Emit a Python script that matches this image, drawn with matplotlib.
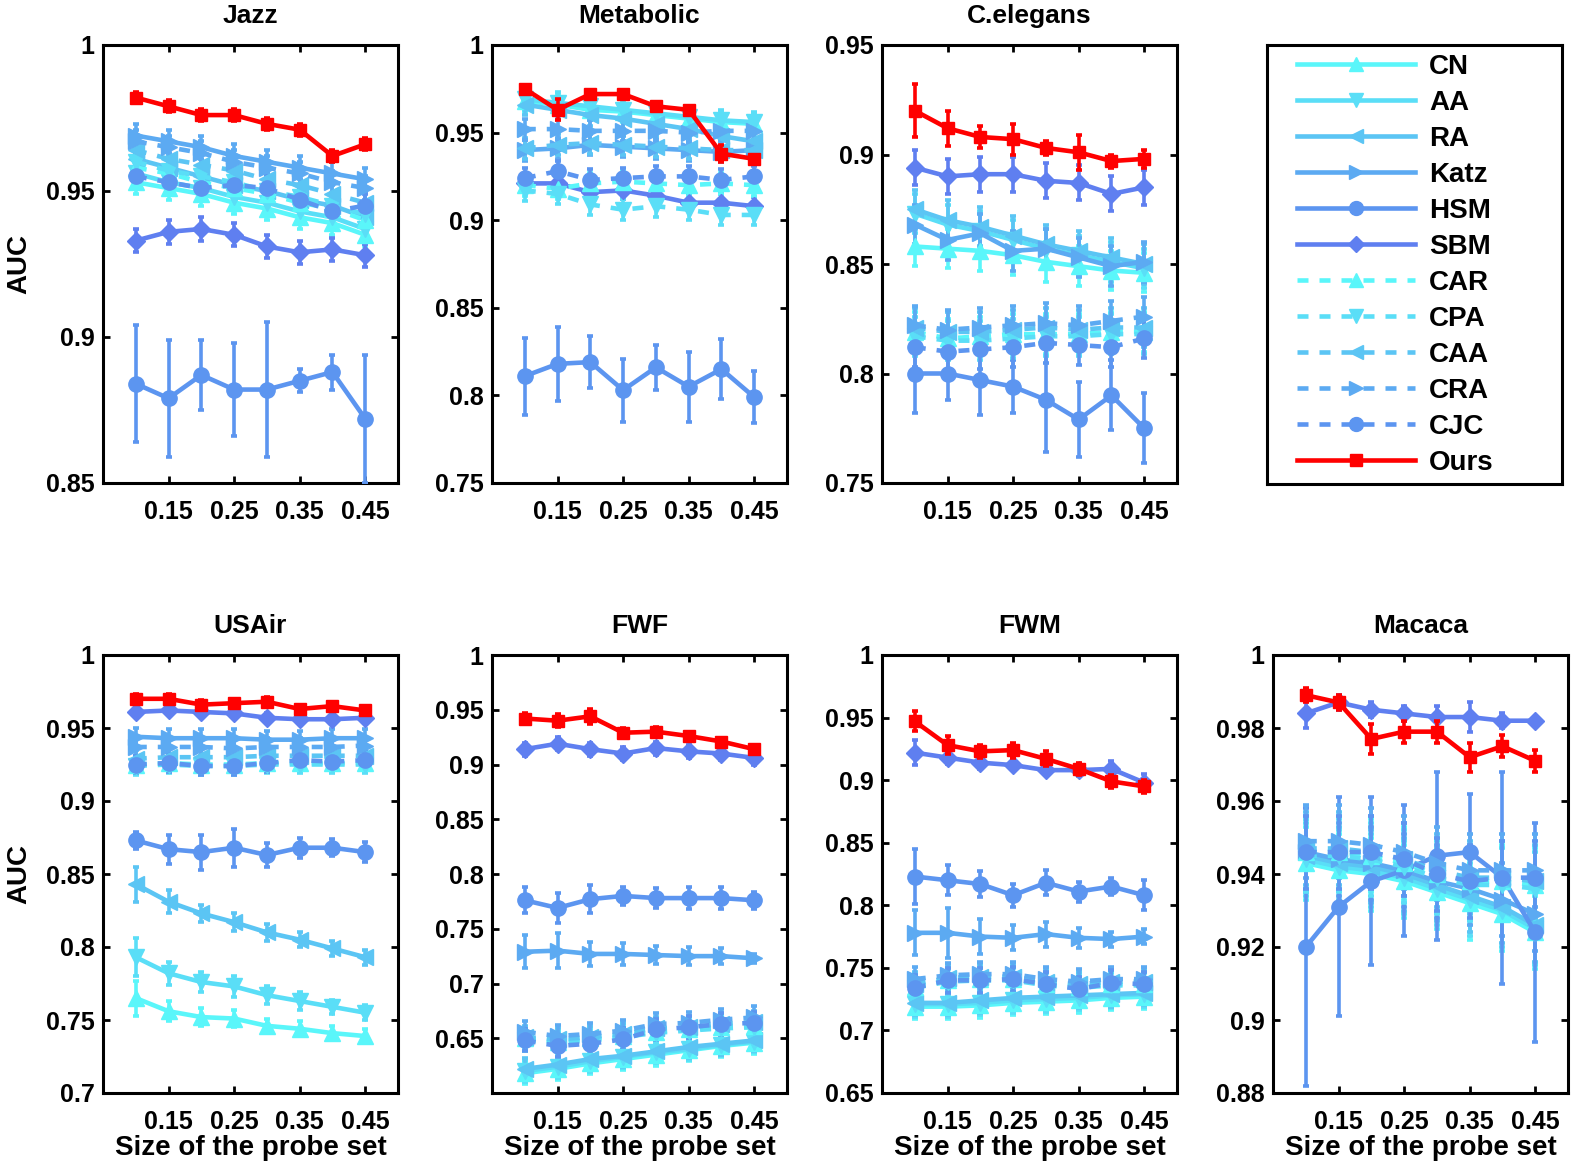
"""
AUC vs size of the probe set for seven networks, with a shared legend panel.
"""

import matplotlib

matplotlib.use("Agg")
import matplotlib.pyplot as plt
import numpy as np
from matplotlib.lines import Line2D
from matplotlib.ticker import FormatStrFormatter

plt.rcParams["font.family"] = ["Liberation Sans", "DejaVu Sans"]
plt.rcParams["font.weight"] = "bold"

# probe set sizes
probe = [0.10, 0.15, 0.20, 0.25, 0.30, 0.35, 0.40, 0.45]

methods = ["CN", "AA", "RA", "Katz", "HSM", "SBM",
           "CAR", "CPA", "CAA", "CRA", "CJC", "Ours"]

# ---------------- Jazz ----------------
jazz_auc = {
    "CN":   [0.953, 0.951, 0.949, 0.946, 0.944, 0.941, 0.939, 0.935],
    "AA":   [0.956, 0.953, 0.951, 0.948, 0.946, 0.943, 0.941, 0.937],
    "RA":   [0.961, 0.958, 0.955, 0.952, 0.950, 0.947, 0.945, 0.941],
    "Katz": [0.969, 0.967, 0.965, 0.962, 0.960, 0.958, 0.956, 0.954],
    "HSM":  [0.884, 0.879, 0.887, 0.882, 0.882, 0.885, 0.888, 0.872],
    "SBM":  [0.933, 0.936, 0.937, 0.935, 0.931, 0.929, 0.930, 0.928],
    "CAR":  [0.958, 0.956, 0.953, 0.951, 0.949, 0.946, 0.944, 0.940],
    "CPA":  [0.960, 0.957, 0.955, 0.953, 0.950, 0.948, 0.945, 0.942],
    "CAA":  [0.964, 0.961, 0.959, 0.957, 0.954, 0.952, 0.949, 0.946],
    "CRA":  [0.967, 0.965, 0.963, 0.960, 0.958, 0.956, 0.953, 0.951],
    "CJC":  [0.955, 0.953, 0.951, 0.952, 0.951, 0.947, 0.943, 0.945],
    "Ours": [0.982, 0.979, 0.976, 0.976, 0.973, 0.971, 0.962, 0.966],
}
jazz_err = {
    "HSM":  [0.020, 0.020, 0.012, 0.016, 0.023, 0.004, 0.006, 0.022],
    "SBM":  0.004,
    "Ours": 0.002,
    "other": 0.004,
}

# ---------------- Metabolic ----------------
metabolic_auc = {
    "CN":   [0.968, 0.966, 0.963, 0.962, 0.960, 0.958, 0.956, 0.955],
    "AA":   [0.969, 0.967, 0.965, 0.963, 0.961, 0.959, 0.957, 0.956],
    "RA":   [0.966, 0.963, 0.960, 0.958, 0.955, 0.952, 0.948, 0.945],
    "Katz": [0.940, 0.941, 0.943, 0.942, 0.941, 0.940, 0.939, 0.940],
    "HSM":  [0.811, 0.818, 0.819, 0.803, 0.816, 0.805, 0.815, 0.799],
    "SBM":  [0.921, 0.921, 0.916, 0.917, 0.914, 0.910, 0.910, 0.908],
    "CAR":  [0.920, 0.918, 0.921, 0.922, 0.921, 0.920, 0.921, 0.920],
    "CPA":  [0.917, 0.915, 0.909, 0.906, 0.908, 0.906, 0.903, 0.903],
    "CAA":  [0.941, 0.943, 0.944, 0.943, 0.942, 0.941, 0.940, 0.940],
    "CRA":  [0.952, 0.952, 0.951, 0.951, 0.951, 0.950, 0.951, 0.951],
    "CJC":  [0.924, 0.928, 0.923, 0.924, 0.925, 0.925, 0.923, 0.925],
    "Ours": [0.975, 0.963, 0.972, 0.972, 0.965, 0.963, 0.938, 0.935],
}
metabolic_err = {
    "HSM":  [0.022, 0.021, 0.015, 0.018, 0.013, 0.020, 0.017, 0.015],
    "SBM":  0.005,
    "Ours": [0.002, 0.006, 0.002, 0.002, 0.002, 0.002, 0.005, 0.002],
    "other": 0.006,
}

# ---------------- C.elegans ----------------
celegans_auc = {
    "CN":   [0.858, 0.857, 0.856, 0.854, 0.851, 0.849, 0.847, 0.846],
    "AA":   [0.873, 0.868, 0.865, 0.861, 0.857, 0.854, 0.851, 0.848],
    "RA":   [0.875, 0.870, 0.867, 0.863, 0.859, 0.856, 0.853, 0.850],
    "Katz": [0.868, 0.861, 0.864, 0.856, 0.857, 0.853, 0.849, 0.851],
    "HSM":  [0.800, 0.800, 0.797, 0.794, 0.788, 0.779, 0.790, 0.775],
    "SBM":  [0.894, 0.890, 0.891, 0.891, 0.888, 0.887, 0.882, 0.885],
    "CAR":  [0.819, 0.816, 0.817, 0.818, 0.818, 0.818, 0.819, 0.819],
    "CPA":  [0.817, 0.815, 0.815, 0.816, 0.817, 0.817, 0.818, 0.818],
    "CAA":  [0.821, 0.819, 0.819, 0.820, 0.821, 0.820, 0.821, 0.821],
    "CRA":  [0.822, 0.820, 0.821, 0.822, 0.823, 0.822, 0.824, 0.826],
    "CJC":  [0.812, 0.810, 0.811, 0.812, 0.814, 0.813, 0.812, 0.816],
    "Ours": [0.920, 0.912, 0.908, 0.907, 0.903, 0.901, 0.897, 0.898],
}
celegans_err = {
    "HSM":  [0.018, 0.012, 0.016, 0.012, 0.024, 0.017, 0.016, 0.016],
    "SBM":  0.008,
    "Ours": [0.012, 0.008, 0.005, 0.007, 0.003, 0.008, 0.003, 0.004],
    "other": 0.009,
}

# ---------------- USAir ----------------
usair_auc = {
    "CN":   [0.765, 0.756, 0.752, 0.751, 0.746, 0.744, 0.741, 0.739],
    "AA":   [0.793, 0.782, 0.776, 0.773, 0.767, 0.763, 0.759, 0.755],
    "RA":   [0.843, 0.831, 0.823, 0.817, 0.810, 0.805, 0.799, 0.793],
    "Katz": [0.944, 0.943, 0.943, 0.943, 0.942, 0.942, 0.943, 0.943],
    "HSM":  [0.873, 0.867, 0.865, 0.868, 0.863, 0.868, 0.868, 0.865],
    "SBM":  [0.961, 0.962, 0.961, 0.960, 0.957, 0.956, 0.956, 0.957],
    "CAR":  [0.925, 0.926, 0.925, 0.925, 0.926, 0.926, 0.926, 0.926],
    "CPA":  [0.924, 0.925, 0.924, 0.924, 0.925, 0.925, 0.925, 0.925],
    "CAA":  [0.929, 0.930, 0.930, 0.930, 0.931, 0.931, 0.931, 0.931],
    "CRA":  [0.937, 0.937, 0.937, 0.936, 0.937, 0.937, 0.937, 0.938],
    "CJC":  [0.925, 0.926, 0.924, 0.924, 0.926, 0.928, 0.927, 0.928],
    "Ours": [0.970, 0.970, 0.966, 0.967, 0.968, 0.963, 0.965, 0.962],
}
usair_err = {
    "HSM":  [0.006, 0.010, 0.012, 0.013, 0.008, 0.007, 0.006, 0.007],
    "SBM":  0.003,
    "Ours": 0.003,
    "CN":   [0.012, 0.007, 0.006, 0.006, 0.005, 0.005, 0.005, 0.005],
    "AA":   [0.013, 0.008, 0.007, 0.007, 0.006, 0.006, 0.005, 0.005],
    "RA":   [0.012, 0.008, 0.006, 0.006, 0.006, 0.005, 0.005, 0.005],
    "other": 0.006,
}

# ---------------- FWF ----------------
fwf_auc = {
    "CN":   [0.618, 0.622, 0.627, 0.631, 0.635, 0.639, 0.643, 0.646],
    "AA":   [0.620, 0.624, 0.629, 0.633, 0.637, 0.640, 0.644, 0.647],
    "RA":   [0.622, 0.626, 0.631, 0.634, 0.638, 0.642, 0.645, 0.648],
    "Katz": [0.729, 0.730, 0.727, 0.727, 0.726, 0.725, 0.725, 0.723],
    "HSM":  [0.776, 0.769, 0.777, 0.780, 0.778, 0.778, 0.778, 0.776],
    "SBM":  [0.914, 0.919, 0.914, 0.910, 0.915, 0.912, 0.910, 0.906],
    "CAR":  [0.650, 0.647, 0.650, 0.652, 0.656, 0.658, 0.660, 0.661],
    "CPA":  [0.648, 0.646, 0.648, 0.651, 0.655, 0.657, 0.659, 0.660],
    "CAA":  [0.651, 0.649, 0.651, 0.654, 0.659, 0.660, 0.663, 0.665],
    "CRA":  [0.656, 0.652, 0.654, 0.657, 0.663, 0.664, 0.667, 0.669],
    "CJC":  [0.648, 0.643, 0.645, 0.649, 0.658, 0.660, 0.663, 0.664],
    "Ours": [0.942, 0.940, 0.944, 0.929, 0.930, 0.926, 0.921, 0.914],
}
fwf_err = {
    "HSM":  [0.012, 0.014, 0.013, 0.008, 0.009, 0.010, 0.010, 0.008],
    "Katz": [0.015, 0.016, 0.011, 0.010, 0.008, 0.008, 0.007, 0.004],
    "SBM":  0.006,
    "Ours": [0.005, 0.006, 0.007, 0.004, 0.004, 0.004, 0.003, 0.003],
    "other": 0.010,
}

# ---------------- FWM ----------------
fwm_auc = {
    "CN":   [0.719, 0.719, 0.720, 0.722, 0.723, 0.724, 0.726, 0.727],
    "AA":   [0.721, 0.721, 0.722, 0.724, 0.725, 0.726, 0.728, 0.729],
    "RA":   [0.722, 0.722, 0.724, 0.726, 0.727, 0.728, 0.729, 0.730],
    "Katz": [0.778, 0.778, 0.775, 0.774, 0.777, 0.774, 0.773, 0.775],
    "HSM":  [0.823, 0.820, 0.817, 0.808, 0.818, 0.811, 0.815, 0.808],
    "SBM":  [0.922, 0.918, 0.914, 0.912, 0.908, 0.908, 0.909, 0.898],
    "CAR":  [0.735, 0.740, 0.741, 0.741, 0.737, 0.735, 0.737, 0.737],
    "CPA":  [0.734, 0.739, 0.740, 0.740, 0.736, 0.734, 0.736, 0.736],
    "CAA":  [0.737, 0.742, 0.743, 0.743, 0.739, 0.737, 0.739, 0.739],
    "CRA":  [0.741, 0.744, 0.745, 0.745, 0.741, 0.739, 0.741, 0.741],
    "CJC":  [0.734, 0.740, 0.740, 0.741, 0.737, 0.733, 0.738, 0.737],
    "Ours": [0.947, 0.928, 0.923, 0.924, 0.917, 0.909, 0.899, 0.895],
}
fwm_err = {
    "HSM":  [0.022, 0.012, 0.010, 0.009, 0.010, 0.008, 0.007, 0.012],
    "Katz": [0.018, 0.020, 0.014, 0.010, 0.010, 0.008, 0.006, 0.006],
    "SBM":  [0.010, 0.005, 0.005, 0.004, 0.004, 0.005, 0.006, 0.007],
    "Ours": [0.008, 0.007, 0.005, 0.006, 0.006, 0.005, 0.005, 0.005],
    "other": 0.010,
}

# ---------------- Macaca ----------------
macaca_auc = {
    "CN":   [0.943, 0.941, 0.940, 0.938, 0.935, 0.932, 0.929, 0.924],
    "AA":   [0.944, 0.942, 0.941, 0.939, 0.936, 0.933, 0.930, 0.925],
    "RA":   [0.945, 0.943, 0.942, 0.940, 0.937, 0.934, 0.931, 0.926],
    "Katz": [0.946, 0.944, 0.943, 0.941, 0.938, 0.936, 0.933, 0.929],
    "HSM":  [0.920, 0.931, 0.938, 0.941, 0.945, 0.946, 0.939, 0.924],
    "SBM":  [0.984, 0.987, 0.985, 0.984, 0.983, 0.983, 0.982, 0.982],
    "CAR":  [0.946, 0.946, 0.945, 0.943, 0.940, 0.938, 0.938, 0.937],
    "CPA":  [0.945, 0.945, 0.944, 0.942, 0.939, 0.937, 0.937, 0.936],
    "CAA":  [0.947, 0.947, 0.946, 0.944, 0.941, 0.939, 0.939, 0.938],
    "CRA":  [0.949, 0.949, 0.948, 0.946, 0.943, 0.941, 0.941, 0.941],
    "CJC":  [0.946, 0.946, 0.946, 0.944, 0.940, 0.938, 0.939, 0.939],
    "Ours": [0.989, 0.987, 0.977, 0.979, 0.979, 0.972, 0.975, 0.971],
}
macaca_err = {
    "HSM":  [0.038, 0.030, 0.023, 0.018, 0.023, 0.016, 0.029, 0.030],
    "SBM":  [0.004, 0.002, 0.002, 0.002, 0.003, 0.004, 0.002, 0.001],
    "Ours": [0.002, 0.002, 0.004, 0.003, 0.003, 0.004, 0.003, 0.003],
    "other": 0.010,
}

# ---------------- style ----------------
colors = {
    "CN": "#5af6fa", "AA": "#5adef7", "RA": "#5bc5f4", "Katz": "#5caaf2",
    "HSM": "#5c95f0", "SBM": "#5f7ff0",
    "CAR": "#5af6fa", "CPA": "#5adef7", "CAA": "#5bc5f4", "CRA": "#5caaf2",
    "CJC": "#5c95f0", "Ours": "#ff0000",
}
markers = {
    "CN": "^", "AA": "v", "RA": "<", "Katz": ">", "HSM": "o", "SBM": "D",
    "CAR": "^", "CPA": "v", "CAA": "<", "CRA": ">", "CJC": "o", "Ours": "s",
}
DASH = (0, (2.4, 2.4))
linestyles = {m: (DASH if m in ("CAR", "CPA", "CAA", "CRA", "CJC") else "-")
              for m in methods}
marker_sizes = {m: 11 for m in methods}
marker_sizes["SBM"] = 9
marker_sizes["Ours"] = 9

LW = 3.3
TICK_FS = 18
LABEL_FS = 20

panels = [
    # title, auc, err, ylim, yticks, axes position (px: left, top), ylabel, xlabel
    ("Jazz", jazz_auc, jazz_err, (0.85, 1.0), [0.85, 0.9, 0.95, 1.0], (103, 45), True, False),
    ("Metabolic", metabolic_auc, metabolic_err, (0.75, 1.0),
     [0.75, 0.8, 0.85, 0.9, 0.95, 1.0], (492, 45), False, False),
    ("C.elegans", celegans_auc, celegans_err, (0.75, 0.95),
     [0.75, 0.8, 0.85, 0.9, 0.95], (882, 45), False, False),
    ("USAir", usair_auc, usair_err, (0.7, 1.0),
     [0.7, 0.75, 0.8, 0.85, 0.9, 0.95, 1.0], (103, 655), True, True),
    ("FWF", fwf_auc, fwf_err, (0.6, 1.0),
     [0.65, 0.7, 0.75, 0.8, 0.85, 0.9, 0.95, 1.0], (492, 655), False, True),
    ("FWM", fwm_auc, fwm_err, (0.65, 1.0),
     [0.65, 0.7, 0.75, 0.8, 0.85, 0.9, 0.95, 1.0], (882, 655), False, True),
    ("Macaca", macaca_auc, macaca_err, (0.88, 1.0),
     [0.88, 0.9, 0.92, 0.94, 0.96, 0.98, 1.0], (1273, 655), False, True),
]

W, H = 1575, 1167
AX_W, AX_H = 295, 438

fig = plt.figure(figsize=(W / 100, H / 100), dpi=100)


def rect(left, top, w=AX_W, h=AX_H):
    return [left / W, 1 - (top + h) / H, w / W, h / H]


def style_axes(ax):
    for sp in ax.spines.values():
        sp.set_linewidth(2.2)
    ax.tick_params(direction="in", length=5, width=2, top=True, right=True,
                   labelsize=TICK_FS)
    ax.tick_params(axis="x", pad=12)
    ax.tick_params(axis="y", pad=6)
    for lab in ax.get_xticklabels() + ax.get_yticklabels():
        lab.set_fontweight("bold")


for title, auc, err, ylim, yticks, (left, top), show_ylabel, show_xlabel in panels:
    ax = fig.add_axes(rect(left, top))
    for m in methods:
        e = err.get(m, err["other"])
        ax.errorbar(probe, auc[m], yerr=np.broadcast_to(e, (len(probe),)),
                    color=colors[m], linestyle=linestyles[m], linewidth=LW,
                    marker=markers[m], markersize=marker_sizes[m],
                    markerfacecolor=colors[m], markeredgecolor=colors[m],
                    elinewidth=2.6, capsize=2.5, capthick=2.6,
                    zorder=5 if m == "Ours" else 3)
    ax.set_xlim(0.05, 0.5)
    ax.set_ylim(*ylim)
    ax.set_xticks([0.15, 0.25, 0.35, 0.45])
    ax.set_yticks(yticks)
    ax.xaxis.set_major_formatter(FormatStrFormatter("%g"))
    ax.yaxis.set_major_formatter(FormatStrFormatter("%g"))
    style_axes(ax)
    ax.set_title(title, fontsize=19, fontweight="bold", pad=16)
    if show_ylabel:
        ax.set_ylabel("AUC", fontsize=LABEL_FS, fontweight="bold", labelpad=10)
    if show_xlabel:
        ax.set_xlabel("Size of the probe set", fontsize=LABEL_FS, fontweight="bold",
                      labelpad=1)

# legend panel
ax_leg = fig.add_axes(rect(1267, 45, 295, 439))
ax_leg.set_xticks([])
ax_leg.set_yticks([])
for sp in ax_leg.spines.values():
    sp.set_linewidth(2.2)
handles = [Line2D([], [], color=colors[m], linestyle=linestyles[m], linewidth=LW,
                  marker=markers[m], markersize=marker_sizes[m] - 1,
                  markerfacecolor=colors[m], markeredgecolor=colors[m])
           for m in methods]
leg = ax_leg.legend(handles, methods, loc="upper left",
                    bbox_to_anchor=(30 / 295, 1 - 9 / 439),
                    frameon=False, fontsize=LABEL_FS, handlelength=4.25,
                    handletextpad=0.5, labelspacing=0.36, borderaxespad=0.0,
                    borderpad=0.0)
for t in leg.get_texts():
    t.set_fontweight("bold")

fig.savefig("out.png", dpi=100)
